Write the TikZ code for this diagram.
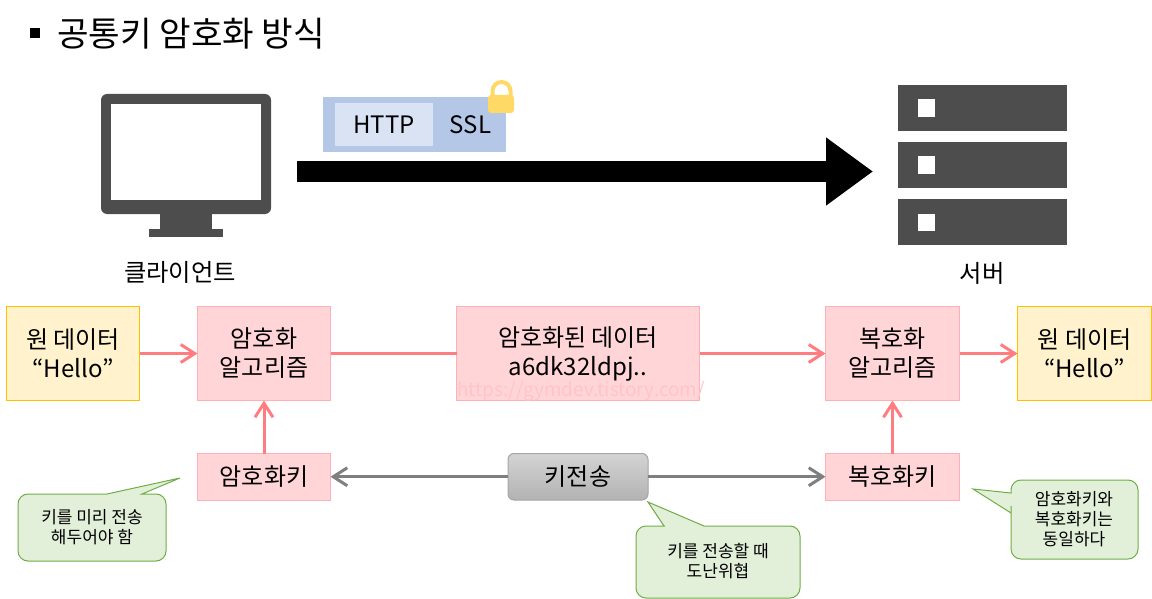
\documentclass[tikz,border=0pt]{standalone}
\usepackage{fontspec}
\usepackage{xcolor}
\setmainfont{Noto Sans CJK KR}
\usetikzlibrary{arrows.meta,positioning}
\definecolor{mypink}{HTML}{FFD5D8}
\definecolor{mypinkline}{HTML}{FFB0B5}
\definecolor{myyellow}{HTML}{FFF2CC}
\definecolor{myyellowline}{HTML}{FFC000}
\definecolor{mygreen}{HTML}{E2EFD9}
\definecolor{mygreenline}{HTML}{70AD47}
\definecolor{myred}{HTML}{FF7C80}
\definecolor{mygray}{HTML}{7F7F7F}
\definecolor{mydark}{HTML}{4D4D4D}
\definecolor{myblue}{HTML}{B4C7E7}
\definecolor{mylightblue}{HTML}{DAE3F3}
\definecolor{mylock}{HTML}{FFD966}
\definecolor{mywater}{HTML}{FFC4CB}

\begin{document}
\begin{tikzpicture}[
      x=1pt,y=-1pt,
      mybox/.style={
         rectangle,
         draw=mypinkline,
         fill=mypink,
         line width=1pt,
         outer sep=0pt,
         inner sep=0pt,
         align=center,
         minimum width=133pt,
         minimum height=94pt,
         font=\fontsize{24}{29}\selectfont},
      keybox/.style={mybox,minimum height=46.5pt},
      databox/.style={mybox,draw=myyellowline,fill=myyellow},
      sendbox/.style={keybox,draw=black!35,rounded corners=6pt,
         top color=black!17,bottom color=black!30,minimum width=140pt},
      tipbox/.style={draw=mygreenline,fill=mygreen,line width=1pt,line join=miter},
      tiptext/.style={align=center,font=\fontsize{17}{20}\selectfont},
      mylabel/.style={font=\fontsize{24.3}{29}\selectfont},
      myarrow/.style={draw=myred,line width=3pt,-{Straight Barb[length=14pt,width=18pt]}},
      keyarrow/.style={draw=mygray,line width=3pt,-{Straight Barb[length=14pt,width=18pt]}},
      icon/.style={fill=mydark},
      node distance=53pt and 58pt
      ]
\useasboundingbox (0,0) rectangle (1152,599);

% title
\fill (30,28) rectangle (40,38);
\node[anchor=west,inner sep=0pt,font=\fontsize{34.3}{40}\selectfont] (title) at (57,34) {공통키 암호화 방식};

% client
\fill[icon,rounded corners=6pt] (101,94) rectangle (271,214);
\fill[white] (111,104) rectangle (261,200);
\fill[icon] (159.5,210) rectangle (212,230);
\fill[icon] (149,229) rectangle (223,237);
\node[mylabel] (client) at (180,272) {클라이언트};

% server
\foreach \y in {85,142,199}{
   \fill[icon] (898,\y) rectangle (1067,\y+46);
   \fill[white] (917.5,\y+14.5) rectangle (935,\y+32);
}
\node[mylabel] (server) at (982,273) {서버};

% http over ssl
\node[rectangle,fill=myblue,minimum width=183pt,minimum height=55pt,inner sep=0pt] (ssl) at (414.5,124.5) {};
\node[rectangle,fill=mylightblue,minimum width=98pt,minimum height=43pt,inner sep=0pt,
      font=\fontsize{24}{26}\selectfont] (http) at (384,124.5) {HTTP};
\node[font=\fontsize{24}{26}\selectfont,inner sep=0pt] (ssltext) at (470.5,124.5) {SSL};
\draw[mylock,line width=4pt] (492.5,98) -- (492.5,91) arc (180:360:9) -- (510.5,98);
\fill[mylock,rounded corners=3pt] (488,95) rectangle (514,113);

\coordinate (sendstart) at (297,171.5);
\coordinate (sendend) at (873,171.5);
\draw[line width=21pt,-{Triangle[length=47pt,width=65pt]}] (sendstart) -- (sendend);

% upper row
\node[databox,anchor=north west] (orig1) at (6.5,306.5) {원 데이터\\“Hello”};
\node[mybox,right=of orig1] (encalgo) {암호화\\알고리즘};
\node[mybox,right=126pt of encalgo,minimum width=243pt] (encdata) {암호화된 데이터\\a6dk32ldpj..};
\node[mybox,right=126pt of encdata,minimum width=134pt] (decalgo) {복호화\\알고리즘};
\node[databox,right=of decalgo,minimum width=134pt] (orig2) {원 데이터\\“Hello”};

% lower row
\node[keybox,below=of encalgo] (enckey) {암호화키};
\node[keybox,below=of decalgo,minimum width=134pt] (deckey) {복호화키};
\node[sendbox] (keysend) at (enckey -| encdata) {키전송};

\draw[draw=myred,line width=3pt] (encalgo) -- (encdata);
\foreach \i/\j in {% start node/end node
      orig1/encalgo, encdata/decalgo, decalgo/orig2,
      enckey/encalgo, deckey/decalgo}
       \draw[myarrow] (\i) -- (\j);
\foreach \i/\j in {keysend/enckey, keysend/deckey}
       \draw[keyarrow] (\i) -- (\j);

% speech bubbles
\draw[tipbox] (60,494) -- (107,494) -- (180,478) -- (142,494) -- (150,494)
   [rounded corners=10pt] -- (166,494) -- (166,561) -- (18,561) -- (18,494) -- cycle;
\node[tiptext] (tip1) at (92,527) {키를 미리 전송\\해두어야 함};

\draw[tipbox] (655,526) -- (664,526) -- (648,502) -- (704,526) -- (720,526)
   [rounded corners=10pt] -- (800,526) -- (800,598) -- (636,598) -- (636,526) -- cycle;
\node[tiptext] (tip2) at (718,561) {키를 전송할 때\\도난위협};

\draw[tipbox] (1011,500) -- (1011,513) -- (973,489) -- (1011,493) -- (1011,488)
   [rounded corners=10pt] -- (1011,480) -- (1138,480) -- (1138,559) -- (1011,559) -- cycle;
\node[tiptext] (tip3) at (1074,519) {암호화키와\\복호화키는\\동일하다};

\node[text=mywater,font=\fontsize{19}{22}\selectfont,inner sep=0pt] (watermark) at (581,391) {https://gymdev.tistory.com/};

\end{tikzpicture}
\end{document}
